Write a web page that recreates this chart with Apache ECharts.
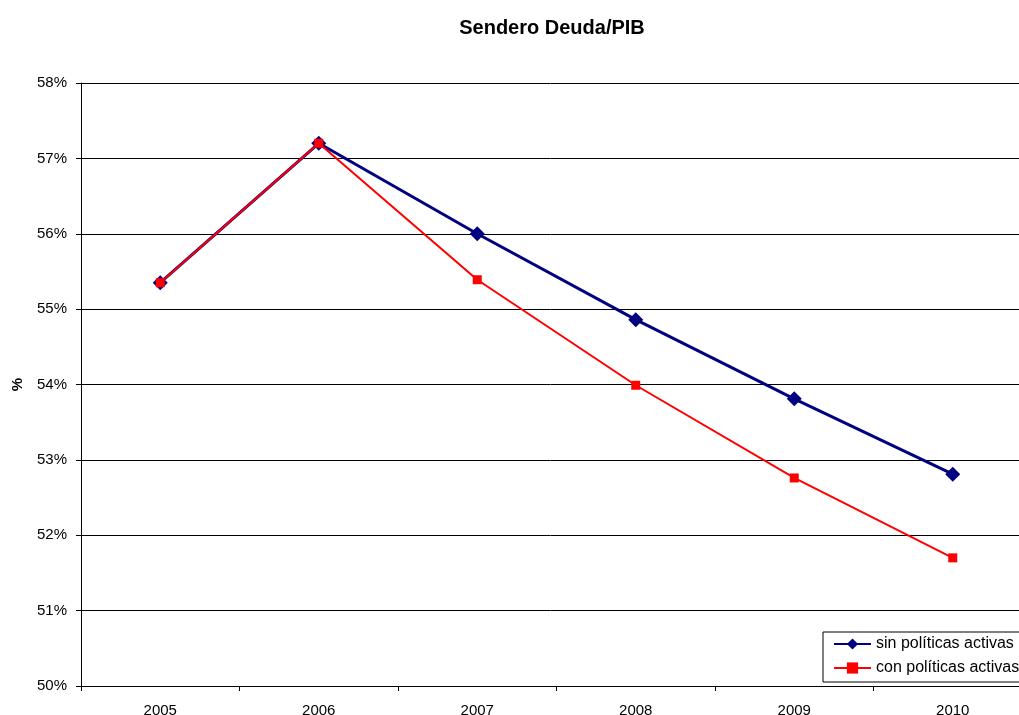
<!DOCTYPE html>
<html>
<head>
<meta charset="utf-8">
<script src="https://cdn.jsdelivr.net/npm/echarts@6/dist/echarts.min.js"></script>
<style>html,body{margin:0;padding:0;background:#fff;}#c{width:1019px;height:715px;}</style>
</head>
<body>
<div id="c"></div>
<script>
var years = ['2005', '2006', '2007', '2008', '2009', '2010'];
var sinPoliticas = [55.35, 57.20, 56.00, 54.86, 53.81, 52.81];
var conPoliticas = [55.35, 57.20, 55.39, 53.99, 52.76, 51.70];
var yTicks = { min: 50, max: 58, interval: 1 };

var chart = echarts.init(document.getElementById('c'));
chart.setOption({
  backgroundColor: '#ffffff',
  animation: false,
  title: {
    text: 'Sendero Deuda/PIB',
    left: 547, top: 13, textAlign: 'center',
    textStyle: { fontFamily: 'Liberation Sans, Arial', fontSize: 20, fontWeight: 'bold', color: '#000' }
  },
  grid: { left: 81, top: 83, width: 951, height: 603, containLabel: false, outerBoundsMode: 'none' },
  legend: {
    orient: 'vertical',
    left: 823, top: 632,
    padding: [4, 30, 6, 10],
    itemGap: 8,
    itemWidth: 37, itemHeight: 14,
    backgroundColor: '#fff',
    borderColor: '#000', borderWidth: 1,
    textStyle: { fontFamily: 'Liberation Sans, Arial', fontSize: 16, color: '#000' },
    data: ['sin políticas activas', 'con políticas activas']
  },
  xAxis: {
    type: 'category', data: years, boundaryGap: true,
    axisLine: { lineStyle: { color: '#000', width: 1 } },
    axisTick: { show: true, length: 5, lineStyle: { color: '#000' } },
    axisLabel: { fontFamily: 'Liberation Sans, Arial', fontSize: 15, color: '#000', margin: 17 }
  },
  yAxis: {
    type: 'value', min: yTicks.min, max: yTicks.max, interval: yTicks.interval,
    name: '%', nameLocation: 'middle', nameRotate: 90, nameGap: 56,
    nameTextStyle: { fontFamily: 'Liberation Sans, Arial', fontSize: 15, fontWeight: 'bold', color: '#000' },
    axisLine: { show: true, lineStyle: { color: '#000', width: 1 } },
    axisTick: { show: true, length: 5, lineStyle: { color: '#000' } },
    axisLabel: { formatter: '{value}%', fontFamily: 'Liberation Sans, Arial', fontSize: 15, color: '#000', margin: 14 },
    splitLine: { show: true, lineStyle: { color: '#000', width: 1 } }
  },
  series: [
    {
      name: 'sin políticas activas', type: 'line', data: sinPoliticas,
      symbol: 'diamond', symbolSize: 15,
      lineStyle: { color: '#000080', width: 3 },
      itemStyle: { color: '#000080' }
    },
    {
      name: 'con políticas activas', type: 'line', data: conPoliticas,
      symbol: 'rect', symbolSize: 9,
      lineStyle: { color: '#ff0000', width: 2 },
      itemStyle: { color: '#ff0000' }
    }
  ]
});
</script>
</body>
</html>
